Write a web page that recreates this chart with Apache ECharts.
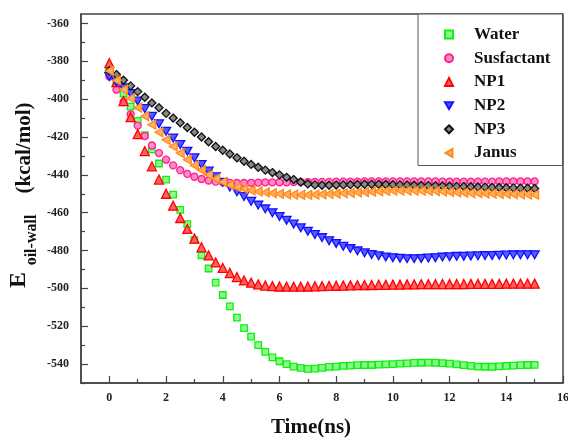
<!DOCTYPE html>
<html>
<head>
<meta charset="utf-8">
<script src="https://cdn.jsdelivr.net/npm/echarts@6/dist/echarts.min.js"></script>
<style>html,body{margin:0;padding:0;background:#fff}#c{width:568px;height:438px}</style>
</head>
<body>
<div id="c"></div>
<script>
var times = [0,0.25,0.5,0.75,1,1.25,1.5,1.75,2,2.25,2.5,2.75,3,3.25,3.5,3.75,4,4.25,4.5,4.75,5,5.25,5.5,5.75,6,6.25,6.5,6.75,7,7.25,7.5,7.75,8,8.25,8.5,8.75,9,9.25,9.5,9.75,10,10.25,10.5,10.75,11,11.25,11.5,11.75,12,12.25,12.5,12.75,13,13.25,13.5,13.75,14,14.25,14.5,14.75,15];

var water = [-384,-391,-397,-404,-411.5,-419,-426.5,-434,-442.5,-450.5,-458.5,-466,-474.5,-482.5,-489.5,-497,-503.5,-509.5,-515.5,-521,-525.5,-530,-533.5,-536.5,-538.5,-540,-541.3,-542,-542.5,-542.4,-542,-541.5,-541.3,-541,-540.8,-540.6,-540.5,-540.5,-540.3,-540.2,-540,-539.8,-539.6,-539.4,-539.3,-539.2,-539.3,-539.5,-539.8,-540.2,-540.6,-541,-541.3,-541.4,-541.4,-541.2,-541,-540.8,-540.6,-540.5,-540.4];

var susfactant = [-388,-395,-401.5,-408,-414,-419.5,-424.5,-428.5,-432,-435,-437.5,-439.5,-441,-442.2,-443,-443.6,-444,-444.2,-444.3,-444.3,-444.2,-444.1,-444,-444,-443.9,-443.9,-443.8,-443.8,-443.8,-443.7,-443.7,-443.7,-443.6,-443.6,-443.6,-443.6,-443.5,-443.5,-443.5,-443.5,-443.5,-443.5,-443.5,-443.5,-443.5,-443.5,-443.5,-443.6,-443.6,-443.6,-443.6,-443.6,-443.6,-443.6,-443.6,-443.5,-443.5,-443.5,-443.5,-443.5,-443.5];

var np1 = [-381,-391,-401,-409.5,-418.5,-427.5,-435.5,-442.5,-450,-456.3,-462.8,-468.6,-473.7,-478.3,-482.6,-486.3,-489.2,-491.9,-494,-495.8,-497,-497.9,-498.5,-498.8,-499,-499.1,-499.1,-499.1,-499,-498.9,-498.8,-498.7,-498.6,-498.5,-498.4,-498.3,-498.2,-498.2,-498.1,-498.1,-498,-498,-497.9,-497.9,-497.8,-497.8,-497.8,-497.7,-497.7,-497.7,-497.7,-497.6,-497.6,-497.6,-497.6,-497.6,-497.5,-497.5,-497.5,-497.5,-497.5];

var np2 = [-388,-391,-394,-397,-401,-405,-409,-413,-417,-420.5,-424,-427.5,-431,-434.5,-438,-441,-444,-446.5,-449,-451.5,-454,-456,-458,-460,-462,-464,-466,-468,-469.8,-471.5,-473.2,-474.8,-476.3,-477.7,-479,-480.2,-481.2,-482.1,-482.8,-483.4,-483.8,-484.1,-484.3,-484.3,-484.2,-484,-483.8,-483.5,-483.3,-483.1,-483,-482.9,-482.8,-482.7,-482.6,-482.5,-482.4,-482.3,-482.3,-482.2,-482.2];

var np3 = [-385,-387,-390,-393,-396,-399,-402,-404.5,-407.5,-410,-412.5,-415,-417.5,-420,-422.5,-425,-427,-429,-431,-432.8,-434.5,-436,-437.5,-438.8,-440,-441.3,-442.5,-443.8,-444.8,-445.3,-445.5,-445.5,-445.4,-445.3,-445.2,-445.1,-445,-445,-445,-445.1,-445.2,-445.3,-445.4,-445.5,-445.6,-445.7,-445.8,-445.9,-446,-446.1,-446.2,-446.3,-446.4,-446.5,-446.6,-446.7,-446.8,-446.9,-447,-447.1,-447.2];

var janus = [-385,-390,-395,-399.5,-404.5,-409,-413.5,-417.5,-421.5,-425,-428.5,-432,-435,-437.5,-440,-442,-443.8,-445.3,-446.5,-447.4,-448.2,-448.8,-449.3,-449.7,-450,-450.3,-450.5,-450.6,-450.6,-450.5,-450.3,-450.1,-449.9,-449.7,-449.5,-449.3,-449.1,-448.9,-448.7,-448.5,-448.4,-448.3,-448.3,-448.3,-448.4,-448.5,-448.6,-448.8,-449,-449.2,-449.4,-449.6,-449.7,-449.8,-449.9,-450,-450.1,-450.2,-450.3,-450.4,-450.5];

var seriesNames = ['Water','Susfactant','NP1','NP2','NP3','Janus'];
var xMajorTicks = [0,2,4,6,8,10,12,14,16];
var xMinorTicks = [1,3,5,7,9,11,13,15];
var yMajorTicks = [-540,-520,-500,-480,-460,-440,-420,-400,-380,-360];
var yMinorTicks = [-550,-530,-510,-490,-470,-450,-430,-410,-390,-370];

function pairs(vals){ return vals.map(function(v,i){ return [times[i], v]; }); }

var serif = '"Liberation Serif","Times New Roman",serif';
var downTri = 'path://M0,0L2,0L1,1.732Z';
var leftTri = 'path://M1.732,0L1.732,2L0,1Z';
var styles = [
  {symbol:'rect', size:6.5, fill:'#8cff8c', border:'#11ee11'},
  {symbol:'circle', size:7, fill:'#ff8cc6', border:'#ff1f8f'},
  {symbol:'triangle', size:9, fill:'#ff6060', border:'#ff0000'},
  {symbol:downTri, size:9, fill:'#5a5aff', border:'#1010ff'},
  {symbol:'diamond', size:8, fill:'#888888', border:'#111111'},
  {symbol:leftTri, size:9, fill:'#ffb060', border:'#ff8a1a'}
];
var dataArrays = [water, susfactant, np1, np2, np3, janus];

var series = dataArrays.map(function(arr, i){
  var s = styles[i];
  return {
    name: seriesNames[i], type:'scatter', data: pairs(arr),
    symbol: s.symbol, symbolSize: s.size, symbolKeepAspect:true,
    xAxisIndex:0, yAxisIndex:0,
    itemStyle: {color: s.fill, borderColor: s.border, borderWidth: 1.3, opacity:1},
    emphasis:{disabled:true}
  };
});

var axisFont = {fontFamily: serif, fontWeight:'bold', fontSize:12, color:'#222'};

var option = {
  animation:false,
  backgroundColor:'#fff',
  grid:{left:81, top:14, right:5, bottom:55, outerBoundsMode:'none', containLabel:false, show:true, borderColor:'#444', borderWidth:1.5, backgroundColor:'transparent'},
  legend:{
    orient:'vertical', left:418, top:14,
    data: seriesNames,
    backgroundColor:'#fff', borderColor:'#555', borderWidth:1,
    padding:[12,12,4,26],
    itemWidth:8, itemHeight:8, itemGap:6.7,
    textStyle:{fontFamily: serif, fontWeight:'bold', fontSize:17, color:'#111', padding:[0,0,0,16]}
  },
  xAxis:[{
    type:'value', min:-1, max:16, position:'bottom',
    name:'Time(ns)', nameLocation:'middle', nameGap:34,
    nameTextStyle:{fontFamily: serif, fontWeight:'bold', fontSize:21, color:'#111', padding:[0,22,0,0]},
    axisLine:{show:true, onZero:false, lineStyle:{color:'#444', width:1.5}},
    axisTick:{show:true, inside:true, length:7, customValues:xMajorTicks, lineStyle:{color:'#444', width:1.2}},
    axisLabel:Object.assign({customValues:xMajorTicks, margin:9, showMaxLabel:true, showMinLabel:true}, axisFont),
    splitLine:{show:false}
  },{
    type:'value', min:-1, max:16, position:'bottom',
    axisLine:{show:false, onZero:false},
    axisTick:{show:true, inside:true, length:4, customValues:xMinorTicks, lineStyle:{color:'#444', width:1.2}},
    axisLabel:{show:false}, splitLine:{show:false}
  }],
  yAxis:[{
    type:'value', min:-550, max:-355, position:'left',
    axisLine:{show:true, onZero:false, lineStyle:{color:'#444', width:1.5}},
    axisTick:{show:true, inside:true, length:7, customValues:yMajorTicks, lineStyle:{color:'#444', width:1.2}},
    axisLabel:Object.assign({customValues:yMajorTicks, margin:12}, axisFont),
    splitLine:{show:false}
  },{
    type:'value', min:-550, max:-355, position:'left',
    axisLine:{show:false, onZero:false},
    axisTick:{show:true, inside:true, length:4, customValues:yMinorTicks, lineStyle:{color:'#444', width:1.2}},
    axisLabel:{show:false}, splitLine:{show:false}
  }],
  graphic:[
    {type:'text', x:19, y:280, rotation:Math.PI/2, style:{text:'E', font:'bold 24px ' + serif, fill:'#111', align:'center', verticalAlign:'middle'}},
    {type:'text', x:31.5, y:240, rotation:Math.PI/2, style:{text:'oil-wall', font:'bold 16px ' + serif, fill:'#111', align:'center', verticalAlign:'middle'}},
    {type:'text', x:25, y:148, rotation:Math.PI/2, style:{text:'(kcal/mol)', font:'bold 21px ' + serif, fill:'#111', align:'center', verticalAlign:'middle'}}
  ],
  series: series
};

var chart = echarts.init(document.getElementById('c'), null, {renderer:'canvas'});
chart.setOption(option);
</script>
</body>
</html>
